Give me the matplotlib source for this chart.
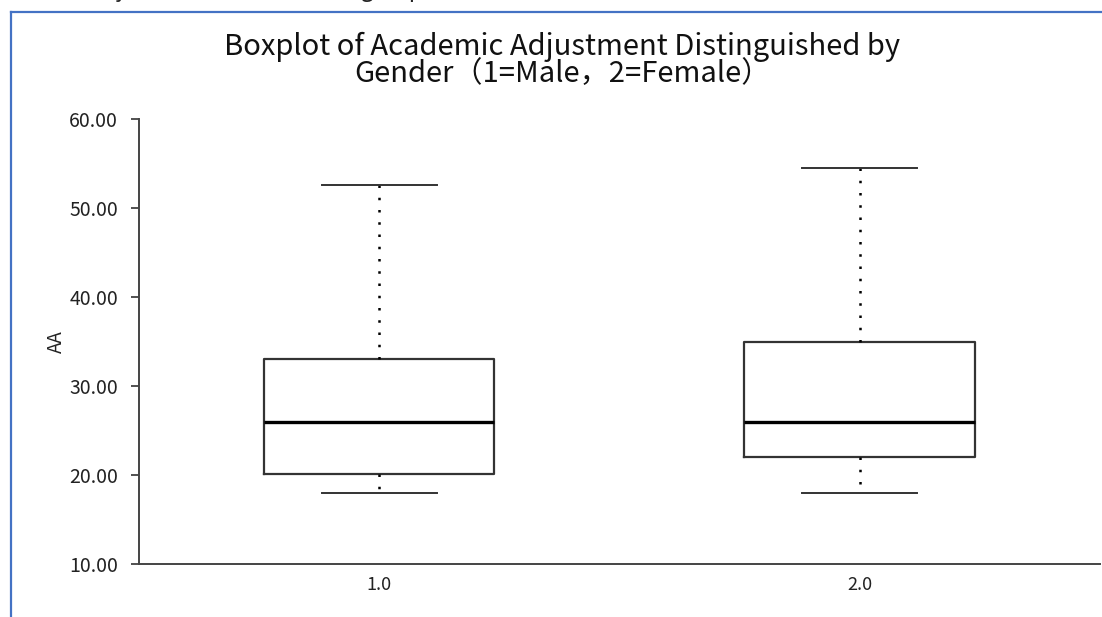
import matplotlib
matplotlib.use("Agg")
import matplotlib.pyplot as plt
from matplotlib.lines import Line2D

plt.rcParams['font.family'] = ['Noto Sans CJK SC', 'DejaVu Sans']

# Data
groups = ["1.0", "2.0"]
whisk_low = [18.0, 18.0]
q1 = [20.1, 22.0]
medians = [26.0, 26.0]
q3 = [33.0, 35.0]
whisk_high = [52.6, 54.5]
y_ticks = [10, 20, 30, 40, 50, 60]

stats = []
for i, g in enumerate(groups):
    stats.append(dict(label=g, whislo=whisk_low[i], q1=q1[i], med=medians[i],
                      q3=q3[i], whishi=whisk_high[i], fliers=[]))

fig = plt.figure(figsize=(11.02, 6.17), dpi=100)
ax = fig.add_axes([0.1261, 0.0859, 0.8719, 0.7212])

edge = "#333333"
ax.bxp(stats, positions=[1, 2], widths=0.48, showfliers=False,
       boxprops=dict(color=edge, linewidth=1.6),
       medianprops=dict(color="black", linewidth=2.4),
       whiskerprops=dict(color="black", linewidth=1.8, linestyle=(0, (1, 3.9))),
       capprops=dict(color=edge, linewidth=1.4),
       capwidths=0.24)

ax.set_xlim(0.5, 2.5)
ax.set_ylim(10, 60)
ax.set_yticks(y_ticks)
ax.set_yticklabels([f"{v:.2f}" for v in y_ticks])
ax.tick_params(axis="y", labelsize=14, length=6, width=1.2, colors="#333333", labelcolor="#222222", pad=9)
ax.tick_params(axis="x", labelsize=13, length=0, pad=9, labelcolor="#222222")
for s in ["top", "right"]:
    ax.spines[s].set_visible(False)
for s in ["left", "bottom"]:
    ax.spines[s].set_color("#444444")
    ax.spines[s].set_linewidth(1.4)

ax.set_ylabel("AA", fontsize=13.5, color="#222222", labelpad=2)

fig.text(0.5 + 0.01, 0.949, "Boxplot of Academic Adjustment Distinguished by\nGender（1=Male，2=Female）",
         ha="center", va="top", fontsize=21, color="#111111", linespacing=0.9)

# cut-off sentence at the very top of the screenshot
fig.text(433 / 1102, 1 + 3 / 617, "Then subject the data of the two groups", ha="right", va="baseline",
         fontsize=16, color="#222222")

# blue frame of the screenshot
blue = "#4472C4"
fig.add_artist(Line2D([10.5 / 1102, 10.5 / 1102], [0, 1 - 12 / 617], color=blue, linewidth=1.6,
                      transform=fig.transFigure))
fig.add_artist(Line2D([10.5 / 1102, 1], [1 - 12 / 617, 1 - 12 / 617], color=blue, linewidth=1.6,
                      transform=fig.transFigure))

fig.savefig("out.png", dpi=100)
